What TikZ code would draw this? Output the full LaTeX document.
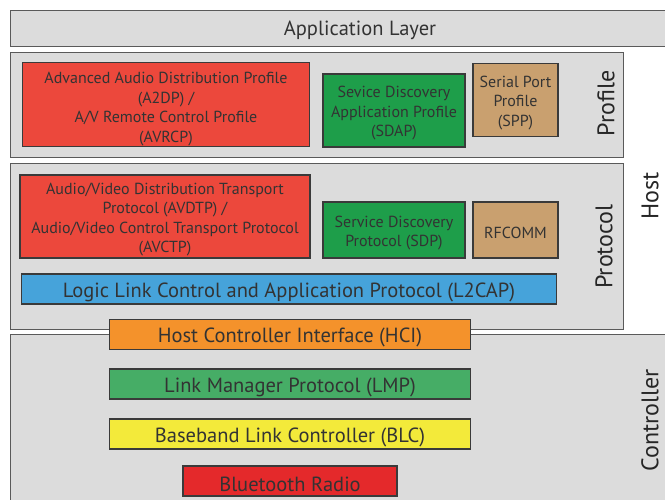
\documentclass[tikz,border=0pt]{standalone}
\usepackage{fontspec}
\setmainfont{PT Sans}
\definecolor{panelgray}{HTML}{DCDCDC}
\definecolor{edgegray}{HTML}{5A5A5A}
\definecolor{boxedge}{HTML}{3A3A3A}
\definecolor{labeltext}{HTML}{333333}
\definecolor{redA}{HTML}{EC483C}
\definecolor{redR}{HTML}{E4292B}
\definecolor{greenD}{HTML}{1E9E4A}
\definecolor{greenL}{HTML}{46AD66}
\definecolor{tan}{HTML}{C9A06F}
\definecolor{blueL}{HTML}{46A3DA}
\definecolor{orangeH}{HTML}{F4922B}
\definecolor{yellowB}{HTML}{F3EA3A}
\begin{document}
\begin{tikzpicture}[x=1pt,y=-1pt,
  panel/.style={draw=edgegray, line width=0.9pt, fill=panelgray, anchor=north west, inner sep=0pt},
  layerbox/.style={draw=boxedge, line width=1.3pt, inner sep=0pt},
  boxtext/.style={align=center, text=labeltext, inner sep=0pt, yshift=-3pt},
  smalltext/.style={font=\fontsize{16}{19.5}\selectfont},
  bigtext/.style={font=\fontsize{20.5}{22}\selectfont},
  sidelabel/.style={font=\fontsize{24}{26}\selectfont, rotate=90, text=black!85, inner sep=0pt}]
\useasboundingbox (0,0) rectangle (665,500);
\fill[white] (0,0) rectangle (665,500);

% grouping panels
\node[panel, minimum width=700, minimum height=36] (app) at (9.5,10.5) {};
\node[bigtext, text=labeltext] (applabel) at (360,30.5) {Application Layer};
\node[panel, minimum width=613.5, minimum height=104.5] (profile) at (9.5,52.2) {};
\node[panel, minimum width=613.5, minimum height=165.5] (protocol) at (9.5,163.5) {};
\node[panel, minimum width=700, minimum height=200] (controller) at (9.5,334.3) {};

% profile layer
\node[layerbox, fill=redA, minimum width=287, minimum height=84,
  label={[boxtext, smalltext, yshift=-1.5pt]center:{Advanced Audio Distribution Profile\\(A2DP) /\\A/V Remote Control Profile\\(AVRCP)}}]
  (a2dp) at (166,104.8) {};
\node[layerbox, fill=greenD, minimum width=142, minimum height=73,
  label={[boxtext, smalltext]center:{Sevice Discovery\\Application Profile\\(SDAP)}}]
  (sdap) at (394,110.5) {};
\node[layerbox, fill=tan, minimum width=85, minimum height=73,
  label={[boxtext, smalltext]center:{Serial Port\\Profile\\(SPP)}}]
  (spp) at (515.5,100) {};

% protocol layer
\node[layerbox, fill=redA, minimum width=290, minimum height=83,
  label={[boxtext, smalltext]center:{Audio/Video Distribution Transport\\Protocol (AVDTP) /\\Audio/Video Control Transport Protocol\\(AVCTP)}}]
  (avdtp) at (165,216.5) {};
\node[layerbox, fill=greenD, minimum width=142, minimum height=56,
  label={[boxtext, smalltext]center:{Service Discovery\\Protocol (SDP)}}]
  (sdp) at (394,230) {};
\node[layerbox, fill=tan, minimum width=85, minimum height=56,
  label={[boxtext, smalltext]center:RFCOMM}]
  (rfcomm) at (515.5,230) {};
\node[layerbox, fill=blueL, minimum width=535, minimum height=30,
  label={[boxtext, bigtext]center:Logic Link Control and Application Protocol (L2CAP)}]
  (l2cap) at (289,289) {};

% controller layer
\node[layerbox, fill=orangeH, minimum width=361, minimum height=30,
  label={[boxtext, bigtext]center:Host Controller Interface (HCI)}]
  (hci) at (290,334.3) {};
\node[layerbox, fill=greenL, minimum width=361, minimum height=30,
  label={[boxtext, bigtext]center:Link Manager Protocol (LMP)}]
  (lmp) at (290,384) {};
\node[layerbox, fill=yellowB, minimum width=361, minimum height=30,
  label={[boxtext, bigtext]center:Baseband Link Controller (BLC)}]
  (blc) at (290,434) {};
\node[layerbox, fill=redR, minimum width=214, minimum height=30,
  label={[boxtext, bigtext]center:Bluetooth Radio}]
  (radio) at (290,481) {};

% side labels
\node[sidelabel] (proflabel) at (606,103.5) {Profile};
\node[sidelabel] (protlabel) at (604,246.5) {Protocol};
\node[sidelabel] (hostlabel) at (650,196) {Host};
\node[sidelabel] (ctrllabel) at (650,420.5) {Controller};
\end{tikzpicture}
\end{document}
